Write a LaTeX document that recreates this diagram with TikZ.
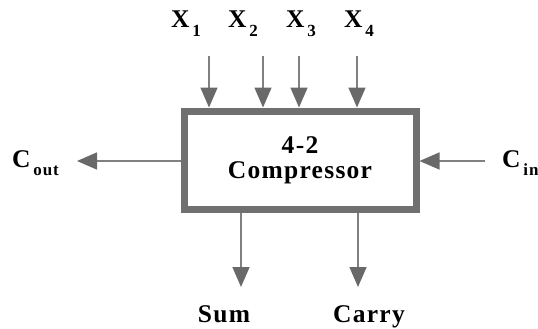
\documentclass[tikz,border=0pt]{standalone}
\usepackage{fontspec}
\setmainfont{Liberation Serif}
\usepackage{tikz}
\usetikzlibrary{arrows.meta}
\definecolor{boxgray}{RGB}{112,112,112}
\definecolor{linegray}{RGB}{128,128,128}
\definecolor{tipgray}{RGB}{105,105,105}
\newcommand{\bigfont}{\fontsize{25.5}{25}\selectfont\bfseries\addfontfeatures{LetterSpace=5}}
\newcommand{\lowsub}[1]{\raisebox{-8.5pt}{\fontsize{17}{17}\selectfont\,#1}}
\tikzset{
  block/.style = {draw=boxgray, line width=7pt, minimum width=232pt, minimum height=98.5pt, align=center, font=\bigfont},
  sig/.style = {draw=linegray, line width=1.5pt, -{Triangle[length=20pt,width=17pt,color=tipgray]}},
  lbl/.style = {inner sep=0pt, anchor=base west, font=\bigfont}
}

\begin{document}
\begin{tikzpicture}[x=1pt,y=-1pt]
\useasboundingbox (0,0) rectangle (538,329);
\node[block] (comp) at (300,160.25) {4-2\\Compressor};
% inputs on top
\node[lbl] (x1) at (171,28) {X\lowsub{1}};
\node[lbl] (x2) at (228,28) {X\lowsub{2}};
\node[lbl] (x3) at (286,28) {X\lowsub{3}};
\node[lbl] (x4) at (344,28) {X\lowsub{4}};
\coordinate (a1) at (209,56);
\coordinate (a2) at (263,56);
\coordinate (a3) at (299,56);
\coordinate (a4) at (357,56);
\draw[sig] (a1) -- (a1 |- comp.north);
\draw[sig] (a2) -- (a2 |- comp.north);
\draw[sig] (a3) -- (a3 |- comp.north);
\draw[sig] (a4) -- (a4 |- comp.north);
% carries
\node[lbl] (cout) at (12,167) {C\lowsub{out}};
\coordinate (co) at (77,161);
\draw[sig] (co -| comp.west) -- (co);
\node[lbl] (cin) at (502,167) {C\lowsub{in}};
\coordinate (ci) at (485,161);
\draw[sig] (ci) -- (ci -| comp.east);
% outputs
\node[lbl, anchor=base] (sum) at (224,322) {Sum};
\node[lbl, anchor=base] (carry) at (369,322) {Carry};
\coordinate (s) at (241,287);
\coordinate (c) at (358,287);
\draw[sig] (s |- comp.south) -- (s);
\draw[sig] (c |- comp.south) -- (c);
\end{tikzpicture}
\end{document}
